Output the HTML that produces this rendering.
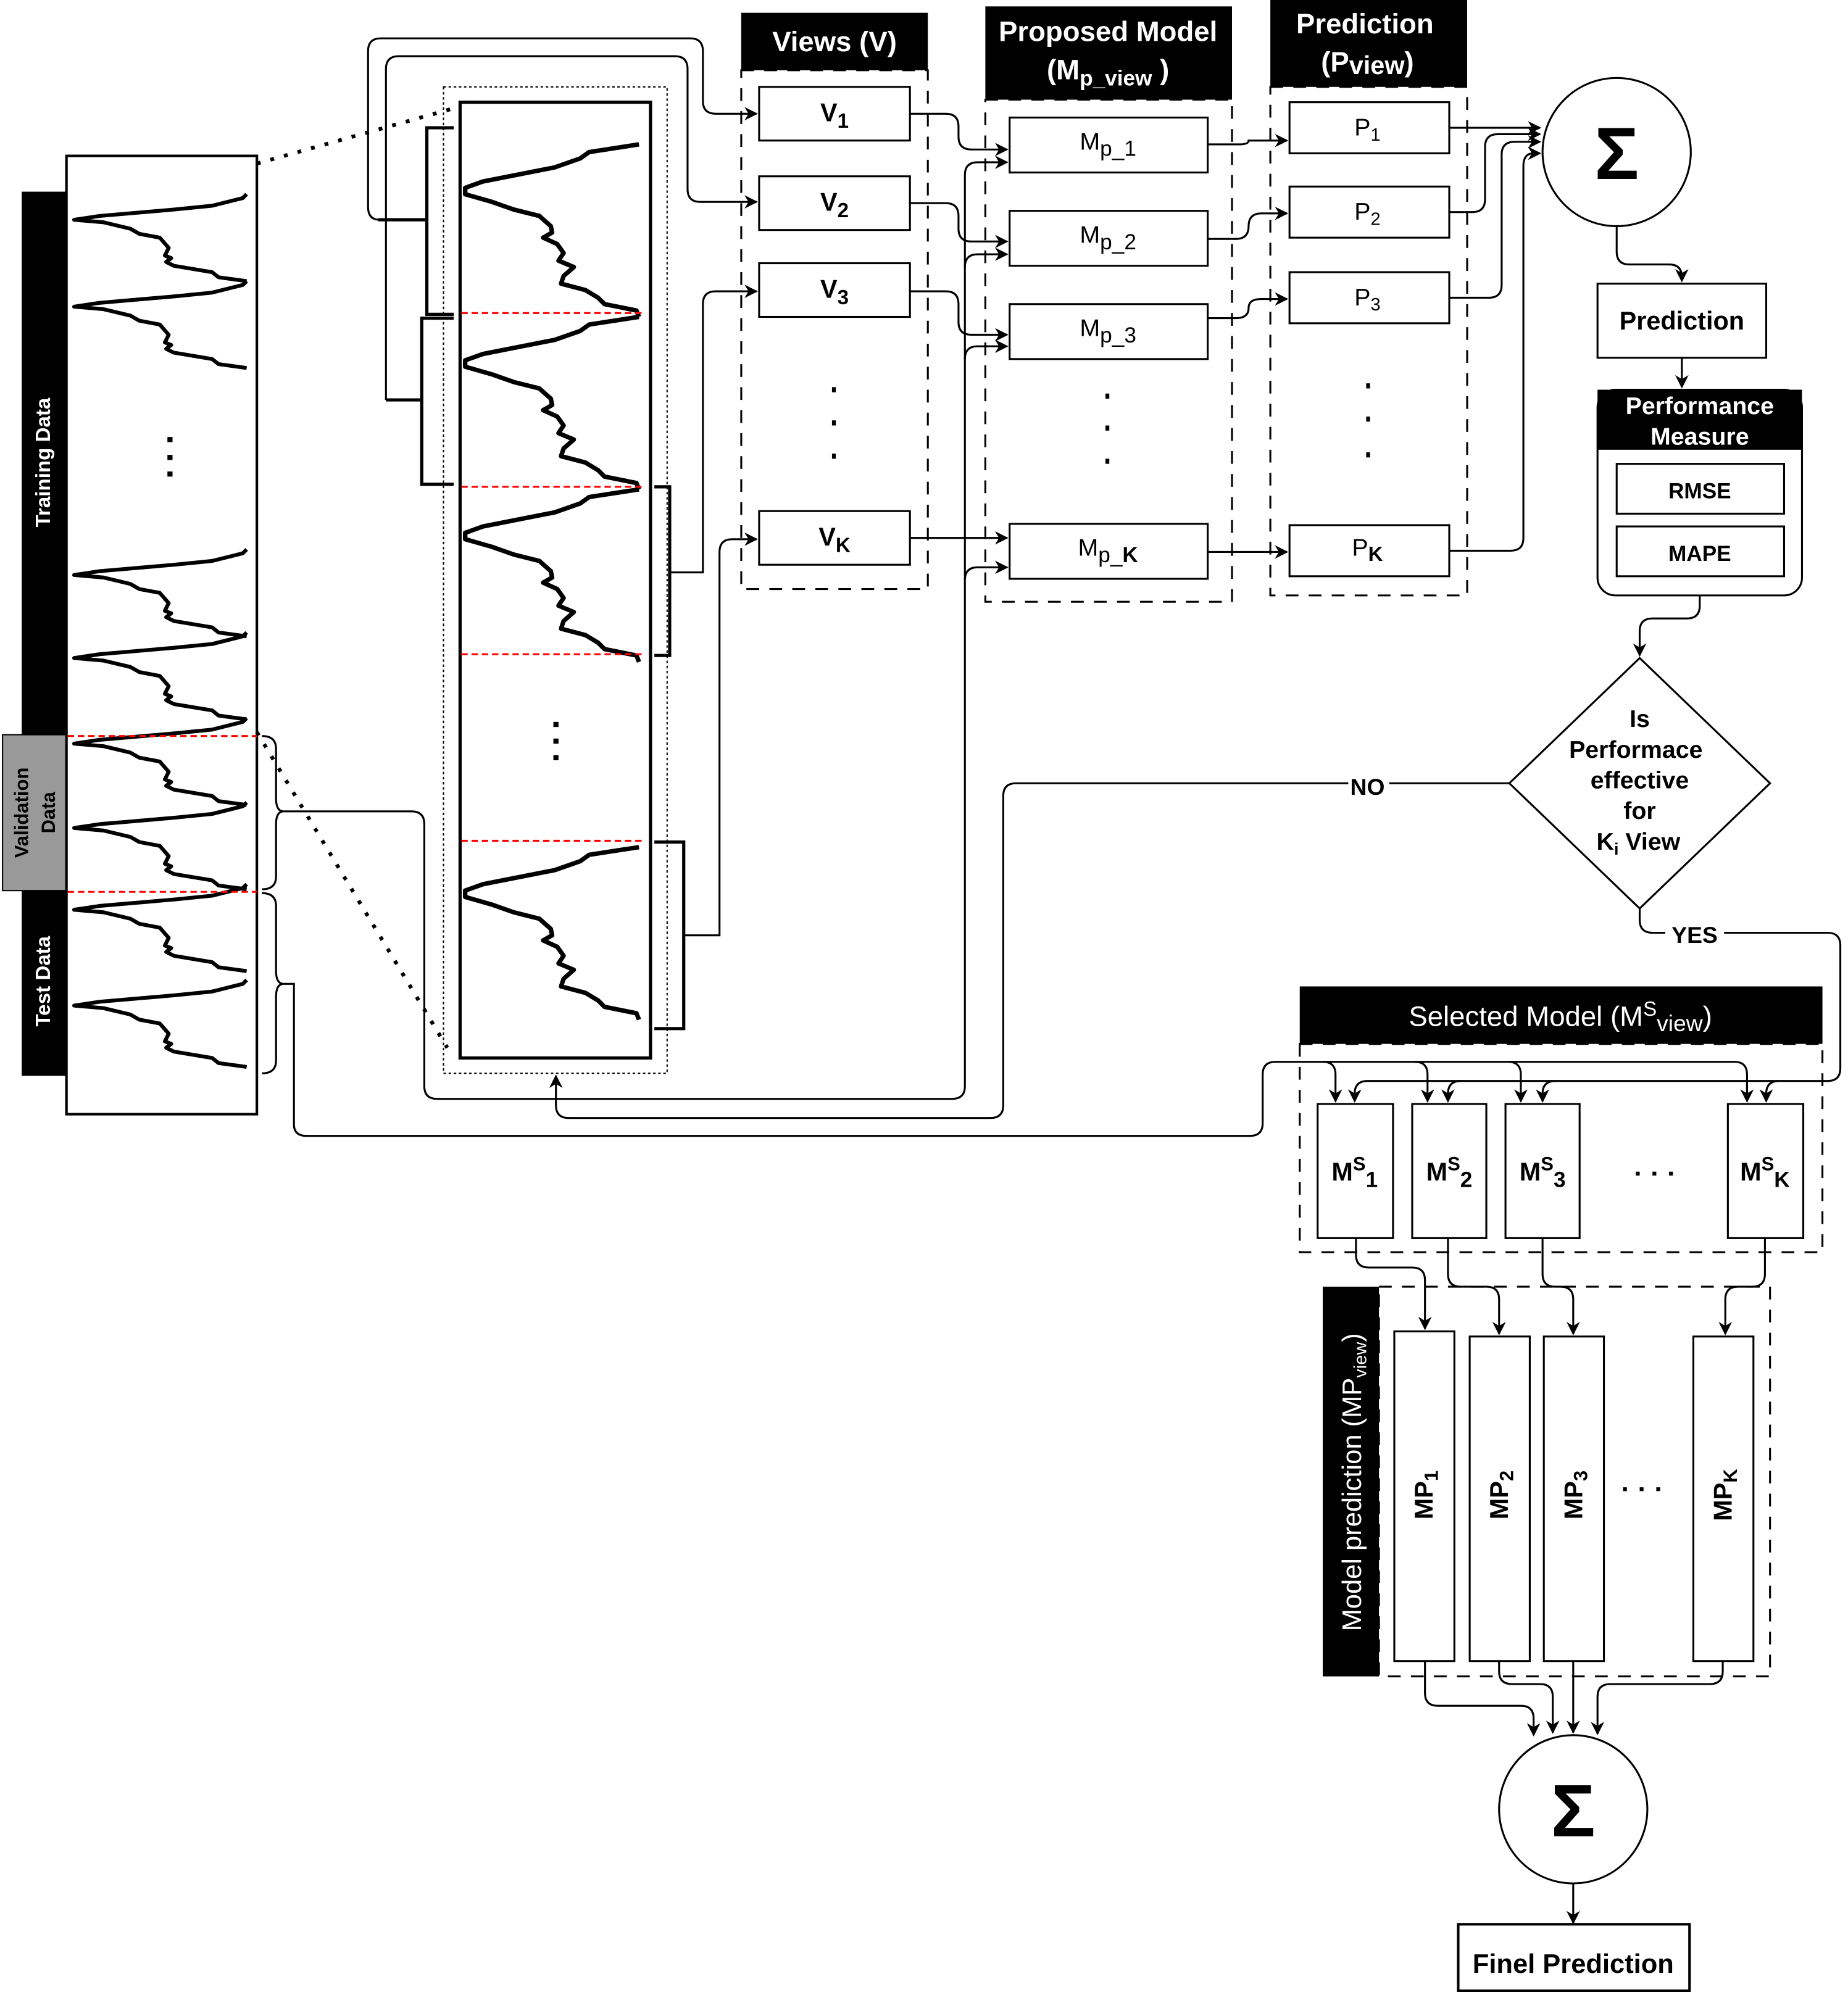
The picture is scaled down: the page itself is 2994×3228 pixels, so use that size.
<!DOCTYPE html>
<html><head><meta charset="utf-8"><style>
html,body{margin:0;padding:0;background:#fff;}
svg{display:block;}
text{font-family:"Liberation Sans",sans-serif;}
</style></head><body>
<svg width="2994" height="3228" viewBox="0 0 1446 1559" preserveAspectRatio="none" xmlns="http://www.w3.org/2000/svg">
<defs>
<marker id="a" viewBox="0 0 10 10" refX="9" refY="5" markerWidth="7" markerHeight="7" orient="auto"><path d="M0,0 L10,5 L0,10 L3,5 z" fill="#000"/></marker>
<polyline id="mw" fill="none" stroke="#000" stroke-width="3.5" stroke-linejoin="round" points="500,113 461,119 454,124 434,131 378,142 364,147 364,152 385,158 402,164 422,169 431,177 432,182 425,186 436,191 441,198 437,204 449,209 441,216 439,222 458,227 468,233 473,238 498,243 500,248"/>
<polyline id="lw" fill="none" stroke="#000" stroke-width="3" stroke-linejoin="round" points="193,155 190,158 166,164 136,167 78,172 58,175 81,177 102,182 109,186 125,189 132,197 129,203 134,205 130,208 136,211 166,216 171,220 193,223"/>
</defs>
<rect width="1446" height="1559" fill="#fff"/>

<rect x="17" y="150" width="36" height="425" fill="#000"/>
<rect x="2" y="575" width="51" height="122" fill="#999" stroke="#000" stroke-width="1"/>
<rect x="17" y="697" width="36" height="145" fill="#000"/>
<text transform="translate(39,362) rotate(-90)" text-anchor="middle" fill="#fff" font-size="16" font-weight="bold">Training Data</text>
<text transform="translate(22,636) rotate(-90)" text-anchor="middle" fill="#000" font-size="15" font-weight="bold">Validation</text>
<text transform="translate(43,636) rotate(-90)" text-anchor="middle" fill="#000" font-size="15" font-weight="bold">Data</text>
<text transform="translate(39,768) rotate(-90)" text-anchor="middle" fill="#fff" font-size="16" font-weight="bold">Test Data</text>
<rect x="52" y="122" width="149" height="750" fill="#fff" stroke="#000" stroke-width="2"/>
<use href="#lw" transform="translate(0,-3)"/>
<use href="#lw" transform="translate(0,65)"/>
<use href="#lw" transform="translate(0,275)"/>
<use href="#lw" transform="translate(0,340)"/>
<use href="#lw" transform="translate(0,407)"/>
<use href="#lw" transform="translate(0,473)"/>
<use href="#lw" transform="translate(0,537)"/>
<use href="#lw" transform="translate(0,612)"/>
<g fill="#000"><rect x="131" y="342" width="4" height="4"/><rect x="131" y="356" width="4" height="4"/><rect x="131" y="369" width="4" height="4"/></g>
<line x1="53" y1="576" x2="201" y2="576" stroke="red" stroke-width="1.5" stroke-dasharray="5,3"/>
<line x1="53" y1="698" x2="201" y2="698" stroke="red" stroke-width="1.5" stroke-dasharray="5,3"/>
<path d="M205,576 Q216,576 216,586 L216,625 Q216,635 222,635 Q216,635 216,645 L216,686 Q216,696 205,696" fill="none" stroke="#000" stroke-width="1.5"/>
<path d="M205,699 Q216,699 216,709 L216,760 Q216,770 222,770 Q216,770 216,780 L216,830 Q216,840 205,840" fill="none" stroke="#000" stroke-width="1.5"/>

<line x1="201" y1="128" x2="372" y2="80" stroke="#000" stroke-width="3" stroke-dasharray="3,8"/>
<line x1="201" y1="573" x2="350" y2="820" stroke="#000" stroke-width="3" stroke-dasharray="3,8"/>

<rect x="347" y="68" width="175" height="772" fill="none" stroke="#000" stroke-width="1" stroke-dasharray="2,2"/>
<rect x="360" y="80" width="149" height="748" fill="#fff" stroke="#000" stroke-width="2.5"/>
<use href="#mw"/>
<use href="#mw" transform="translate(0,135)"/>
<use href="#mw" transform="translate(0,270)"/>
<use href="#mw" transform="translate(0,550)"/>
<g stroke="red" stroke-width="1.5" stroke-dasharray="5,3">
<line x1="361" y1="245" x2="503" y2="245"/><line x1="361" y1="381" x2="503" y2="381"/><line x1="361" y1="512" x2="503" y2="512"/><line x1="361" y1="658" x2="503" y2="658"/></g>
<g fill="#000"><rect x="433" y="565" width="4" height="4"/><rect x="433" y="578" width="4" height="4"/><rect x="433" y="591" width="4" height="4"/></g>
<g fill="none" stroke="#000" stroke-width="2.5">
<path d="M355,100 L334,100 L334,246 L355,246"/>
<path d="M355,249 L330,249 L330,379 L355,379"/>
<path d="M512,381 L524,381 L524,513 L512,513"/>
<path d="M512,659 L535,659 L535,805 L512,805"/>
<line x1="296" y1="172" x2="334" y2="172"/>
<line x1="302" y1="313" x2="330" y2="313"/>
</g>

<g fill="none" stroke="#000" stroke-width="1.5">
<path d="M296,172 L297,172 Q288,172 288,162 L288,40 Q288,30 298,30 L540,30 Q550,30 550,40 L550,79 Q550,89 560,89 L592,89" marker-end="url(#a)"/>
<path d="M302,313 L302,54 Q302,44 312,44 L528,44 Q538,44 538,54 L538,148 Q538,158 548,158 L592,158" marker-end="url(#a)"/>
<path d="M524,448 L550,448 L550,238 Q550,228 560,228 L592,228" marker-end="url(#a)"/>
<path d="M535,732 L563,732 L563,432 Q563,422 573,422 L592,422" marker-end="url(#a)"/>
<path d="M222,635 L322,635 Q332,635 332,645 L332,850 Q332,860 342,860 L745,860 Q755,860 755,850 L755,137 Q755,127 765,127 L788,127" marker-end="url(#a)"/>
<path d="M755,209 Q755,199 765,199 L788,199" marker-end="url(#a)"/>
<path d="M755,281 Q755,271 765,271 L788,271" marker-end="url(#a)"/>
<path d="M755,454 Q755,444 765,444 L788,444" marker-end="url(#a)"/>
<path d="M222,770 L230,770 L230,880 Q230,889 240,889 L978,889 Q988,889 988,879 L988,841 Q988,831 998,831 L1035,831 Q1045,831 1045,841 L1045,862" marker-end="url(#a)"/>
<path d="M1035,831 L1107,831 Q1117,831 1117,841 L1117,862" marker-end="url(#a)"/>
<path d="M1107,831 L1180,831 Q1190,831 1190,841 L1190,862" marker-end="url(#a)"/>
<path d="M1180,831 L1357,831 Q1367,831 1367,841 L1367,862" marker-end="url(#a)"/>
<path d="M1181,613 L795,613 Q785,613 785,623 L785,865 Q785,875 775,875 L445,875 Q435,875 435,865 L435,842" marker-end="url(#a)"/>
</g>
<rect x="1055" y="604" width="32" height="20" fill="#fff"/>
<text x="1070" y="622" text-anchor="middle" font-size="18" font-weight="bold">NO</text>

<rect x="580" y="10" width="146" height="45" fill="#000"/>
<text x="653" y="40" text-anchor="middle" fill="#fff" font-size="22" font-weight="bold">Views (V)</text>
<rect x="580" y="55" width="146" height="406" fill="none" stroke="#000" stroke-width="1.5" stroke-dasharray="10,8"/>
<g fill="#fff" stroke="#000" stroke-width="1.5">
<rect x="594" y="68" width="118" height="42"/><rect x="594" y="138" width="118" height="42"/><rect x="594" y="206" width="118" height="42"/><rect x="594" y="400" width="118" height="42"/></g>
<g font-size="20" font-weight="bold" text-anchor="middle">
<text x="653" y="95">V<tspan font-size="16" dy="5">1</tspan></text>
<text x="653" y="165">V<tspan font-size="16" dy="5">2</tspan></text>
<text x="653" y="233">V<tspan font-size="16" dy="5">3</tspan></text>
<text x="653" y="427">V<tspan font-size="16" dy="5">K</tspan></text></g>
<g fill="#000"><rect x="651" y="303" width="3" height="4"/><rect x="651" y="329" width="3" height="4"/><rect x="651" y="355" width="3" height="4"/></g>

<rect x="771" y="5" width="193" height="73" fill="#000"/>
<text x="867" y="32" text-anchor="middle" fill="#fff" font-size="22" font-weight="bold">Proposed Model</text>
<text x="867" y="62" text-anchor="middle" fill="#fff" font-size="22" font-weight="bold">(M<tspan font-size="17" dy="5">p_view</tspan><tspan dy="-5"> )</tspan></text>
<rect x="771" y="78" width="193" height="393" fill="none" stroke="#000" stroke-width="1.5" stroke-dasharray="10,8"/>
<g fill="#fff" stroke="#000" stroke-width="1.5">
<rect x="790" y="92" width="155" height="43"/><rect x="790" y="165" width="155" height="43"/><rect x="790" y="238" width="155" height="43"/><rect x="790" y="410" width="155" height="43"/></g>
<g font-size="19" text-anchor="middle">
<text x="867" y="117">M<tspan font-size="17" dy="5">p_1</tspan></text>
<text x="867" y="190">M<tspan font-size="17" dy="5">p_2</tspan></text>
<text x="867" y="263">M<tspan font-size="17" dy="5">p_3</tspan></text>
<text x="867" y="435">M<tspan font-size="17" dy="5">p_<tspan font-weight="bold">K</tspan></tspan></text></g>
<g fill="#000"><rect x="865" y="308" width="3" height="4"/><rect x="865" y="333" width="3" height="4"/><rect x="865" y="359" width="3" height="4"/></g>

<rect x="994" y="0" width="154" height="68" fill="#000"/>
<text x="1068" y="26" text-anchor="middle" fill="#fff" font-size="22" font-weight="bold">Prediction</text>
<text x="1070" y="56" text-anchor="middle" fill="#fff" font-size="22" font-weight="bold">(P<tspan font-size="20" dy="2">view</tspan><tspan dy="-2">)</tspan></text>
<rect x="994" y="68" width="154" height="398" fill="none" stroke="#000" stroke-width="1.5" stroke-dasharray="10,8"/>
<g fill="#fff" stroke="#000" stroke-width="1.5">
<rect x="1009" y="80" width="125" height="40"/><rect x="1009" y="146" width="125" height="40"/><rect x="1009" y="213" width="125" height="40"/><rect x="1009" y="411" width="125" height="40"/></g>
<g font-size="19" text-anchor="middle">
<text x="1070" y="106">P<tspan font-size="14" dy="4">1</tspan></text>
<text x="1070" y="172">P<tspan font-size="14" dy="4">2</tspan></text>
<text x="1070" y="239">P<tspan font-size="14" dy="4">3</tspan></text>
<text x="1070" y="435">P<tspan font-size="16" dy="4" font-weight="bold">K</tspan></text></g>
<g fill="#000"><rect x="1069" y="300" width="3" height="4"/><rect x="1069" y="326" width="3" height="4"/><rect x="1069" y="354" width="3" height="4"/></g>

<g fill="none" stroke="#000" stroke-width="1.5">
<path d="M712,89 L740,89 Q750,89 750,99 L750,107 Q750,117 760,117 L788,117" marker-end="url(#a)"/>
<path d="M712,159 L740,159 Q750,159 750,169 L750,179 Q750,189 760,189 L788,189" marker-end="url(#a)"/>
<path d="M712,228 L740,228 Q750,228 750,238 L750,252 Q750,262 760,262 L788,262" marker-end="url(#a)"/>
<path d="M712,421 L788,421" marker-end="url(#a)"/>
<path d="M945,113 L970,113 Q977,113 977,110 L1007,110" marker-end="url(#a)"/>
<path d="M945,187 L967,187 Q977,187 977,177 Q977,167 987,167 L1007,167" marker-end="url(#a)"/>
<path d="M945,249 L967,249 Q977,249 977,241 Q977,234 987,234 L1007,234" marker-end="url(#a)"/>
<path d="M945,432 L1007,432" marker-end="url(#a)"/>
<path d="M1134,100 L1205,100" marker-end="url(#a)"/>
<path d="M1134,166 L1152,166 Q1162,166 1162,156 L1162,115 Q1162,105 1172,105 L1205,105" marker-end="url(#a)"/>
<path d="M1134,233 L1165,233 Q1175,233 1175,223 L1175,121 Q1175,111 1185,111 L1205,111" marker-end="url(#a)"/>
<path d="M1134,431 L1182,431 Q1192,431 1192,421 L1192,130 Q1192,120 1200,120 L1205,120" marker-end="url(#a)"/>
<path d="M1265,177 L1265,197 Q1265,207 1275,207 L1306,207 Q1316,207 1316,217 L1316,220" marker-end="url(#a)"/>
<path d="M1316,280 L1316,303" marker-end="url(#a)"/>
<path d="M1330,466 L1330,474 Q1330,484 1320,484 L1293,484 Q1283,484 1283,494 L1283,513" marker-end="url(#a)"/>
<path d="M1283,711 L1283,720 Q1283,730 1293,730 L1430,730 Q1440,730 1440,740 L1440,836 Q1440,846 1430,846 L1392,846 Q1382,846 1382,856 L1382,862" marker-end="url(#a)"/>
<path d="M1392,846 L1217,846 Q1207,846 1207,856 L1207,862" marker-end="url(#a)"/>
<path d="M1217,846 L1143,846 Q1133,846 1133,856 L1133,862" marker-end="url(#a)"/>
<path d="M1143,846 L1070,846 Q1060,846 1060,856 L1060,862" marker-end="url(#a)"/>
</g>
<rect x="1303" y="720" width="46" height="20" fill="#fff"/>
<text x="1326" y="738" text-anchor="middle" font-size="18" font-weight="bold">YES</text>

<circle cx="1265" cy="119" r="58" fill="#fff" stroke="#000" stroke-width="1.5"/>
<text x="1265" y="140" text-anchor="middle" font-size="58" font-weight="bold">Σ</text>
<rect x="1250" y="222" width="132" height="58" fill="#fff" stroke="#000" stroke-width="1.5"/>
<text x="1316" y="258" text-anchor="middle" font-size="20" font-weight="bold">Prediction</text>
<rect x="1250" y="305" width="160" height="161" rx="14" fill="#fff" stroke="#000" stroke-width="1.5"/>
<rect x="1250" y="305" width="160" height="47" fill="#000"/>
<text x="1330" y="324" text-anchor="middle" fill="#fff" font-size="19" font-weight="bold">Performance</text>
<text x="1330" y="348" text-anchor="middle" fill="#fff" font-size="19" font-weight="bold">Measure</text>
<rect x="1265" y="363" width="131" height="39" fill="#fff" stroke="#000" stroke-width="1.5"/>
<rect x="1265" y="412" width="131" height="39" fill="#fff" stroke="#000" stroke-width="1.5"/>
<text x="1330" y="390" text-anchor="middle" font-size="17" font-weight="bold">RMSE</text>
<text x="1330" y="439" text-anchor="middle" font-size="17" font-weight="bold">MAPE</text>

<polygon points="1283,515 1385,613 1283,711 1181,613" fill="#fff" stroke="#000" stroke-width="1.5"/>
<g font-size="19" font-weight="bold" text-anchor="middle">
<text x="1283" y="569">Is</text><text x="1280" y="593">Performace</text><text x="1283" y="617">effective</text><text x="1283" y="641">for</text>
<text x="1282" y="665">K<tspan font-size="13" dy="4">i</tspan><tspan dy="-4"> View</tspan></text></g>

<rect x="1017" y="772" width="409" height="45" fill="#000"/>
<text x="1221" y="803" text-anchor="middle" fill="#fff" font-size="22">Selected Model (M<tspan font-size="16" dy="-8">S</tspan><tspan font-size="18" dy="12">view</tspan><tspan dy="-4">)</tspan></text>
<rect x="1017" y="817" width="409" height="163" fill="none" stroke="#000" stroke-width="1.5" stroke-dasharray="10,8"/>
<g fill="#fff" stroke="#000" stroke-width="1.5">
<rect x="1031" y="864" width="59" height="105"/><rect x="1105" y="864" width="58" height="105"/><rect x="1178" y="864" width="58" height="105"/><rect x="1352" y="864" width="59" height="105"/></g>
<g font-size="20" font-weight="bold" text-anchor="middle">
<text x="1060" y="924">M<tspan font-size="15" dy="-8">S</tspan><tspan font-size="17" dy="13">1</tspan></text>
<text x="1134" y="924">M<tspan font-size="15" dy="-8">S</tspan><tspan font-size="17" dy="13">2</tspan></text>
<text x="1207" y="924">M<tspan font-size="15" dy="-8">S</tspan><tspan font-size="17" dy="13">3</tspan></text>
<text x="1381" y="924">M<tspan font-size="15" dy="-8">S</tspan><tspan font-size="17" dy="13">K</tspan></text></g>
<g fill="#000"><rect x="1280" y="917" width="3" height="3"/><rect x="1293" y="917" width="3" height="3"/><rect x="1306" y="917" width="3" height="3"/></g>

<g fill="none" stroke="#000" stroke-width="1.5">
<path d="M1061,969 L1061,982 Q1061,992 1071,992 L1105,992 Q1115,992 1115,1002 L1115,1040" marker-end="url(#a)"/>
<path d="M1133,969 L1133,997 Q1133,1007 1143,1007 L1163,1007 Q1173,1007 1173,1017 L1173,1044" marker-end="url(#a)"/>
<path d="M1207,969 L1207,997 Q1207,1007 1217,1007 L1221,1007 Q1231,1007 1231,1017 L1231,1044" marker-end="url(#a)"/>
<path d="M1381,969 L1381,997 Q1381,1007 1371,1007 L1360,1007 Q1350,1007 1350,1017 L1350,1044" marker-end="url(#a)"/>
</g>

<rect x="1035" y="1007" width="44" height="305" fill="#000"/>
<text transform="translate(1065,1160) rotate(-90)" text-anchor="middle" fill="#fff" font-size="21">Model prediction (MP<tspan font-size="14" dy="4">view</tspan><tspan dy="-4">)</tspan></text>
<rect x="1079" y="1007" width="306" height="305" fill="none" stroke="#000" stroke-width="1.5" stroke-dasharray="10,8"/>
<g fill="#fff" stroke="#000" stroke-width="1.5">
<rect x="1091" y="1042" width="47" height="258"/><rect x="1150" y="1046" width="47" height="254"/><rect x="1208" y="1046" width="47" height="254"/><rect x="1325" y="1046" width="47" height="254"/></g>
<g font-size="20" font-weight="bold" text-anchor="middle">
<text transform="translate(1121,1170) rotate(-90)">MP<tspan font-size="15" dy="4">1</tspan></text>
<text transform="translate(1180,1170) rotate(-90)">MP<tspan font-size="15" dy="4">2</tspan></text>
<text transform="translate(1238,1170) rotate(-90)">MP<tspan font-size="15" dy="4">3</tspan></text>
<text transform="translate(1355,1170) rotate(-90)">MP<tspan font-size="15" dy="4">K</tspan></text></g>
<g fill="#000"><rect x="1270" y="1164" width="3" height="3"/><rect x="1283" y="1164" width="3" height="3"/><rect x="1296" y="1164" width="3" height="3"/></g>

<g fill="none" stroke="#000" stroke-width="1.5">
<path d="M1115,1300 L1115,1325 Q1115,1335 1125,1335 L1190,1335 Q1200,1335 1200,1345 L1200,1358" marker-end="url(#a)"/>
<path d="M1173,1300 L1173,1308 Q1173,1318 1183,1318 L1205,1318 Q1215,1318 1215,1328 L1215,1356" marker-end="url(#a)"/>
<path d="M1231,1300 L1231,1356" marker-end="url(#a)"/>
<path d="M1348,1300 L1348,1308 Q1348,1318 1338,1318 L1260,1318 Q1250,1318 1250,1328 L1250,1357" marker-end="url(#a)"/>
<path d="M1231,1474 L1231,1505" marker-end="url(#a)"/>
</g>
<circle cx="1231" cy="1416" r="58" fill="#fff" stroke="#000" stroke-width="1.5"/>
<text x="1231" y="1437" text-anchor="middle" font-size="58" font-weight="bold">Σ</text>
<rect x="1141" y="1506" width="181" height="52" fill="#fff" stroke="#000" stroke-width="2"/>
<text x="1231" y="1544" text-anchor="middle" font-size="21" font-weight="bold">Finel Prediction</text>
</svg>
</body></html>
